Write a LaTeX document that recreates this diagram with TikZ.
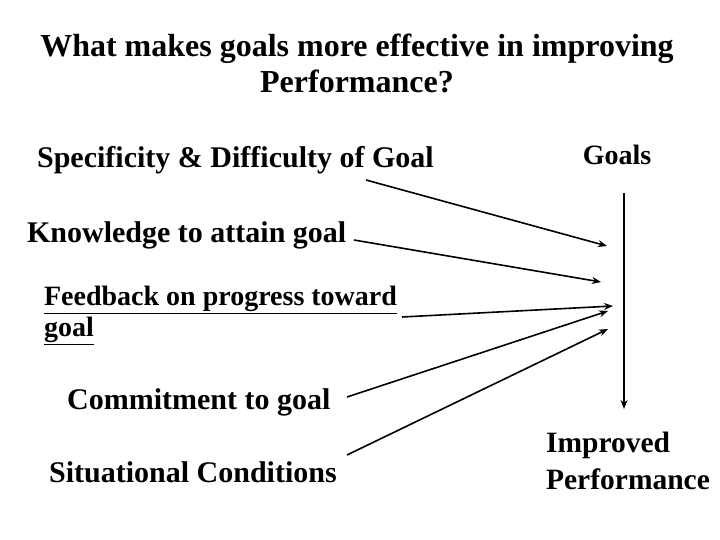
\documentclass[tikz,border=0pt]{standalone}
\usepackage{fontspec}
\setmainfont{Liberation Serif}
\usetikzlibrary{arrows.meta}

\tikzset{every picture/.style={line width=0.75pt}}
\tikzset{lbl/.style={anchor=west,inner sep=0.75pt,font=\fontsize{30}{32}\selectfont\bfseries},
  big/.style={inner sep=0.75pt,align=center,font=\fontsize{28}{36}\selectfont\bfseries},
  arr/.style={line width=1.6pt,-{Stealth[length=9pt,width=7pt]}}}

\begin{document}
\begin{tikzpicture}[x=1pt,y=1pt,yscale=-1,xscale=1]
\useasboundingbox (0,0) rectangle (720,540);

% Title
\node [big,font=\fontsize{32}{36}\selectfont\bfseries] (title) at (357,63) {What makes goals more effective in improving\\Performance?};

% Text Nodes
\node [lbl] (spec) at (36,160) {Specificity \& Difficulty of Goal};
\node [lbl] (know) at (26,235) {Knowledge to attain goal};
\node [lbl,align=left,font=\fontsize{28}{31}\selectfont\bfseries] (feed) at (43,315) {\underline{Feedback on progress toward}\\\underline{goal}};
\node [lbl] (commit) at (66,402) {Commitment to goal};
\node [lbl] (situ) at (48,472) {Situational Conditions};
\node [big] (goals) at (617,155) {Goals};
\node [big,align=left,font=\fontsize{29.5}{37}\selectfont\bfseries] (perf) at (628,461) {Improved\\Performance};

% arrow ends
\coordinate (s1) at (366,180);
\coordinate (s2) at (354,240);
\coordinate (s3) at (402,317);
\coordinate (s4) at (347,397);
\coordinate (s5) at (347,455);
\coordinate (e1) at (607,246);
\coordinate (e2) at (601,282);
\coordinate (e3) at (613,306);
\coordinate (e4) at (608,311);
\coordinate (e5) at (608,329);
\coordinate (top) at (624,193);
\coordinate (bot) at (624,409);

% Arrows
\draw [arr] (s1) -- (e1);
\draw [arr] (s2) -- (e2);
\draw [arr] (s3) -- (e3);
\draw [arr] (s4) -- (e4);
\draw [arr] (s5) -- (e5);
\draw [arr] (top) -- (bot);

\end{tikzpicture}
\end{document}
